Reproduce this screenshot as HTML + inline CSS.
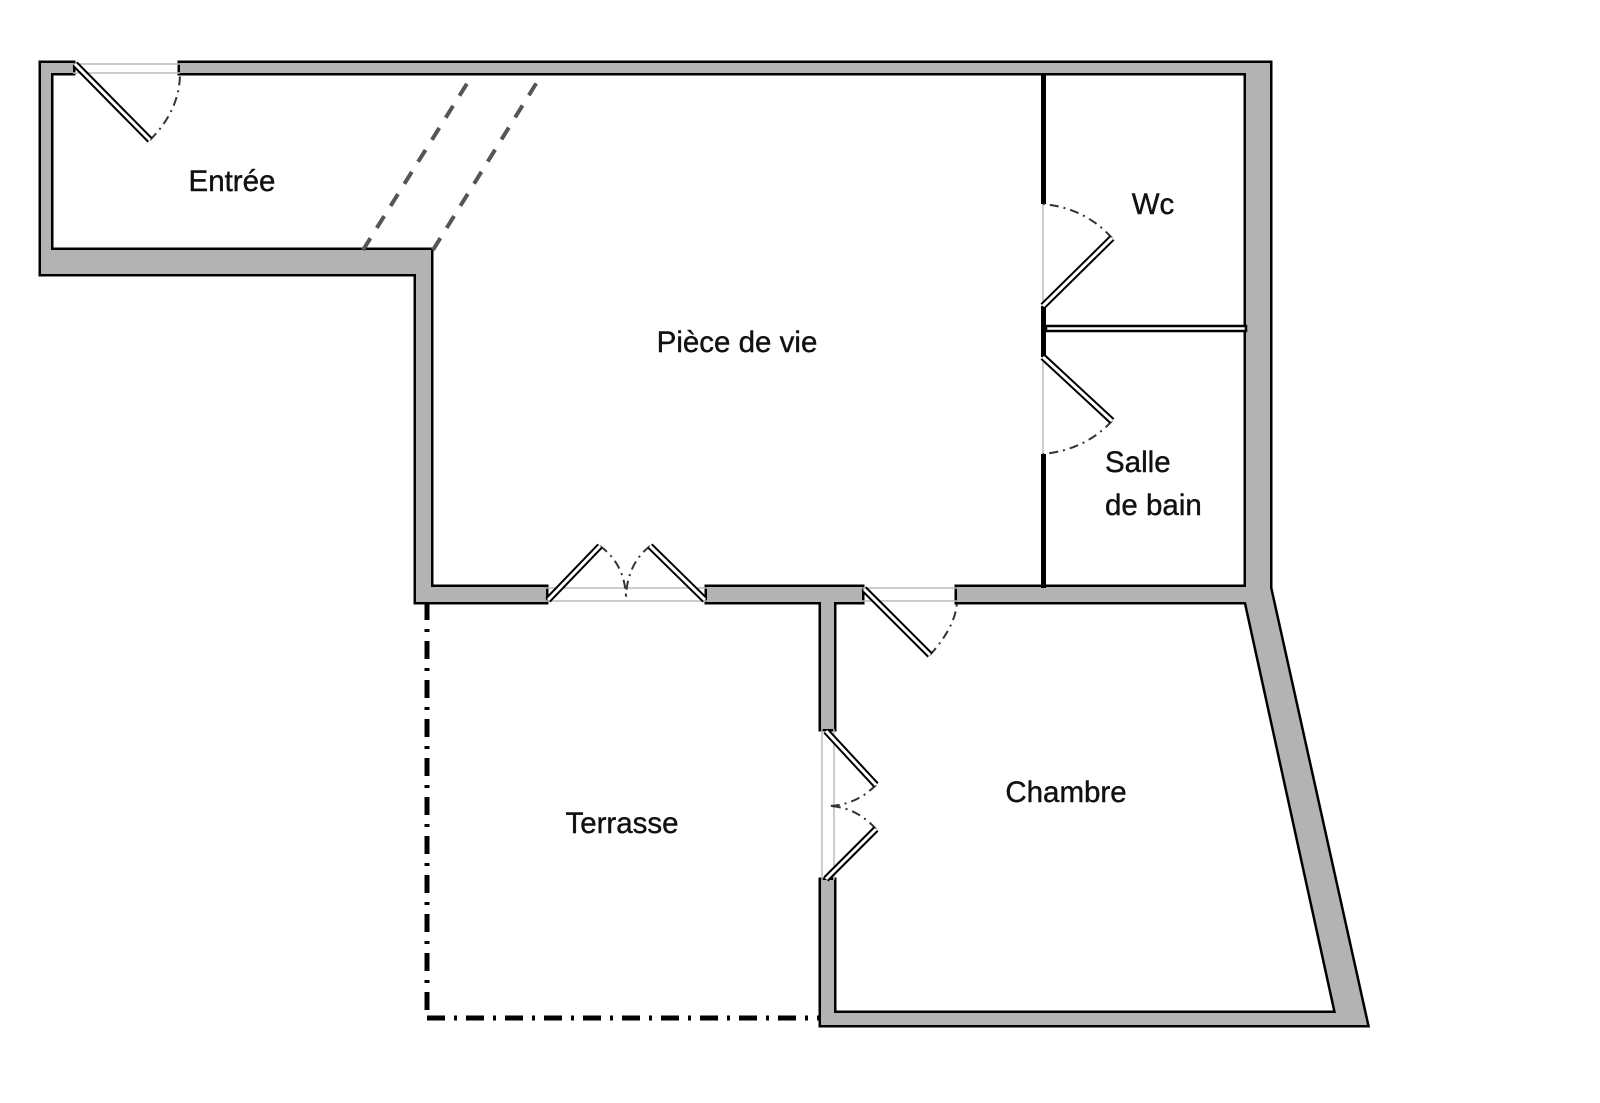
<!DOCTYPE html>
<html><head><meta charset="utf-8"><style>
html,body{margin:0;padding:0;background:#fff;}
svg{display:block;}
text{font-family:"Liberation Sans",sans-serif;font-size:29.5px;fill:#111;stroke:#111;stroke-width:0.4;}
</style></head><body>
<svg width="1600" height="1103" viewBox="0 0 1600 1103" xmlns="http://www.w3.org/2000/svg">
<rect width="1600" height="1103" fill="#fff"/>
<defs>
<g id="walls">
<path d="M41,63 H73 V73 H51 V250 H431 V587 H546 V602 H416 V274 H41 Z"/>
<path d="M180,63 H1270 V73 H180 Z"/>
<path d="M1246,73 H1270 V588 L1367,1025 H821 V880 H834 V1013 H1336 L1246,602 Z"/>
<path d="M957,587 H1246 V602 H957 Z"/>
<path d="M707,587 H862 V602 H834 V729 H821 V602 H707 Z"/>
</g>
</defs>
<use href="#walls" fill="#000" stroke="#000" stroke-width="5" stroke-linejoin="miter"/>
<use href="#walls" fill="#b3b3b3"/>

<g fill="#000">
<rect x="1041" y="73" width="5" height="131"/>
<rect x="1041" y="306" width="5" height="51"/>
<rect x="1041" y="454" width="5" height="134"/>
</g>
<rect x="1046" y="326" width="200" height="5" fill="#fff" stroke="#000" stroke-width="2.5"/>

<g stroke="#bbb" stroke-width="1.5" fill="none">
<line x1="73" y1="64" x2="180" y2="64"/><line x1="73" y1="73" x2="180" y2="73"/>
<line x1="546" y1="588" x2="707" y2="588"/><line x1="546" y1="601" x2="707" y2="601"/>
<line x1="862" y1="588" x2="957" y2="588"/><line x1="862" y1="601" x2="957" y2="601"/>
<line x1="1043" y1="204" x2="1043" y2="306"/><line x1="1043" y1="357" x2="1043" y2="454"/>
<line x1="822" y1="729" x2="822" y2="880"/><line x1="834" y1="729" x2="834" y2="880"/>
</g>

<g stroke="#333" stroke-width="2" fill="none" stroke-dasharray="9,5,2,5">
<path d="M150,140 Q180,110 180,73"/>
<path d="M1112,238 Q1085,208 1043,204"/>
<path d="M1112,421 Q1085,450 1043,454"/>
<path d="M600,546 Q626,565 626,600"/>
<path d="M650,546 Q626,565 626,600"/>
<path d="M930,655 Q957,625 957,600"/>
<path d="M876,785 Q855,806 827,806"/>
<path d="M876,829 Q855,806 827,806"/>
</g>

<g stroke="#000" stroke-width="7" stroke-linecap="butt" fill="none">
<line x1="75" y1="64" x2="150" y2="140"/>
<line x1="1043" y1="306" x2="1112" y2="238"/>
<line x1="1043" y1="357" x2="1112" y2="421"/>
<line x1="548" y1="600" x2="600" y2="546"/>
<line x1="705" y1="600" x2="650" y2="546"/>
<line x1="864" y1="589" x2="930" y2="655"/>
<line x1="826" y1="731" x2="876" y2="785"/>
<line x1="826" y1="879" x2="876" y2="829"/>
</g>
<g stroke="#fff" stroke-width="3" fill="none">
<line x1="75" y1="64" x2="150" y2="140"/>
<line x1="1043" y1="306" x2="1112" y2="238"/>
<line x1="1043" y1="357" x2="1112" y2="421"/>
<line x1="548" y1="600" x2="600" y2="546"/>
<line x1="705" y1="600" x2="650" y2="546"/>
<line x1="864" y1="589" x2="930" y2="655"/>
<line x1="826" y1="731" x2="876" y2="785"/>
<line x1="826" y1="879" x2="876" y2="829"/>
</g>

<g stroke="#555" stroke-width="4" stroke-dasharray="14,12" fill="none">
<line x1="363" y1="250" x2="473" y2="74"/>
<line x1="433" y1="250" x2="542" y2="74"/>
</g>

<g stroke="#000" stroke-width="5" stroke-dasharray="18,9,3,9" fill="none">
<line x1="427" y1="602" x2="427" y2="1018"/>
<line x1="427" y1="1018" x2="821" y2="1018"/>
</g>

<text x="232" y="191" text-anchor="middle">Entrée</text>
<text x="737" y="352" text-anchor="middle">Pièce de vie</text>
<text x="1153" y="214" text-anchor="middle">Wc</text>
<text x="1105" y="472">Salle</text>
<text x="1105" y="515">de bain</text>
<text x="1066" y="802" text-anchor="middle">Chambre</text>
<text x="622" y="833" text-anchor="middle">Terrasse</text>
</svg>
</body></html>
